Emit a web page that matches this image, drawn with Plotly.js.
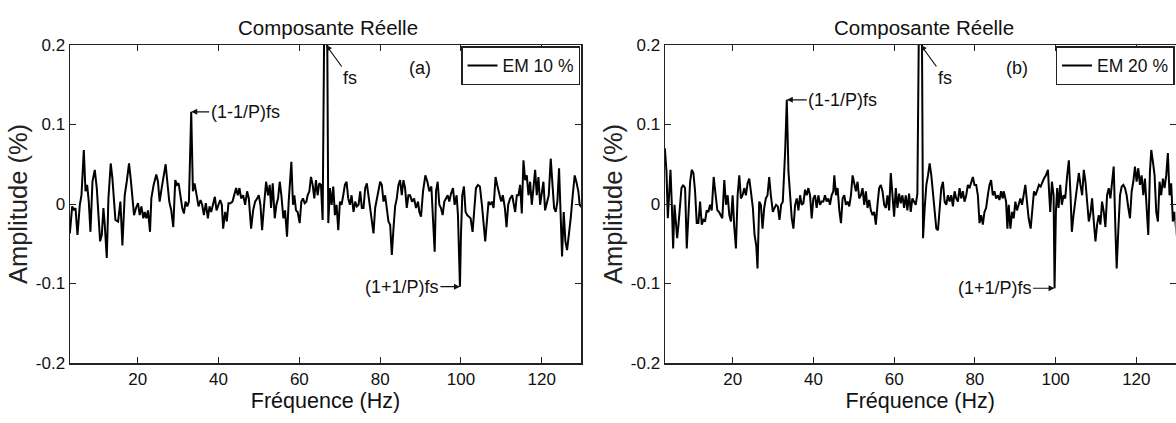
<!DOCTYPE html>
<html>
<head>
<meta charset="utf-8">
<script src="https://cdn.plot.ly/plotly-3.0.1.min.js"></script>
<style>html,body{margin:0;padding:0;background:#fff;}#chart{width:1176px;height:423px;}</style>
</head>
<body>
<div id="chart"></div>
<script>
// ---- Data ----
const freqA = [3.20,3.78,4.27,4.60,5.09,5.67,6.08,6.66,7.07,7.48,7.89,8.30,8.80,9.37,9.87,10.20,10.69,11.10,11.51,11.84,12.34,12.75,13.32,13.74,14.15,14.48,15.14,15.71,16.21,16.78,17.28,17.85,18.26,18.76,19.09,19.58,20.07,20.49,20.90,21.39,21.72,22.13,22.54,23.04,23.37,23.94,24.60,25.01,25.42,25.92,26.41,26.91,27.32,27.81,28.30,28.80,29.29,29.70,30.12,30.53,31.02,31.43,31.84,32.26,32.67,33.24,33.66,34.07,34.56,35.05,35.55,35.96,36.37,36.86,37.36,37.77,38.18,38.67,39.09,39.50,39.91,40.40,40.81,41.14,41.64,42.05,42.46,42.95,43.45,43.94,44.35,44.77,
45.18,45.59,46.09,46.58,47.07,47.49,48.06,48.56,49.05,49.54,49.96,50.37,50.78,51.27,51.77,52.26,52.67,53.00,53.41,53.91,54.32,54.73,55.14,55.55,56.05,56.46,56.95,57.36,57.77,58.02,58.43,58.76,59.17,59.58,60.08,60.49,60.90,61.31,61.73,62.05,62.47,62.88,63.29,63.70,64.11,64.52,64.93,65.35,65.76,66.35,66.75,67.16,67.57,67.98,68.39,68.80,69.21,69.63,70.04,70.45,70.86,71.27,71.68,72.09,72.51,72.92,73.41,73.82,74.23,74.65,75.06,75.47,75.88,76.29,76.70,77.12,77.53,77.94,78.35,78.76,79.17,79.58,80.00,80.41,80.82,81.23,81.64,82.05,82.47,82.88,83.29,83.70,84.11,84.52,84.93,85.35,85.76,86.17,86.58,86.99,
87.40,87.89,88.39,88.88,89.37,89.70,90.11,90.61,91.18,91.68,92.17,92.67,93.00,93.49,93.82,94.23,94.64,95.05,95.46,95.88,96.29,96.70,97.11,97.52,98.02,98.43,98.92,99.25,99.50,99.74,99.99,100.32,100.73,101.14,101.55,101.97,102.38,102.87,103.28,103.70,104.19,104.68,105.18,105.59,106.00,106.41,106.82,107.23,107.65,108.06,108.55,108.96,109.46,109.95,110.36,110.86,111.27,111.68,112.17,112.67,113.08,113.41,113.82,114.23,114.64,115.05,115.46,115.88,116.29,116.70,117.11,117.52,117.93,118.35,118.76,119.17,119.58,119.99,120.40,120.81,121.23,121.72,122.21,122.63,123.04,123.45,123.86,124.27,124.68,125.01,125.42,125.84,126.25,126.74,127.15,127.65,128.14,128.55,129.05,129.37,130.00];
const ampA = [-0.037,-0.003,-0.008,-0.005,-0.039,-0.001,0.011,0.068,0.016,0.024,0.003,-0.035,0.028,0.043,0.020,-0.010,-0.047,-0.039,-0.005,-0.026,-0.068,0.007,0.051,0.032,0.003,-0.020,-0.022,0.003,-0.052,0.011,0.028,0.051,0.032,0.003,-0.014,-0.005,0.001,-0.014,-0.003,-0.018,-0.010,-0.018,-0.008,-0.035,0.007,0.024,0.037,0.028,0.003,0.020,0.034,0.050,0.028,0.003,-0.008,-0.029,0.030,0.024,0.026,0.011,-0.005,-0.012,0.003,-0.003,0.003,0.116,0.016,0.026,0.011,-0.003,0.005,-0.001,-0.014,0.001,-0.018,-0.003,-0.010,-0.001,0.009,-0.008,-0.001,0.005,-0.001,-0.031,-0.010,-0.022,0.001,0.001,0.003,0.011,0.020,0.011,
0.020,0.007,0.011,-0.001,0.016,0.007,-0.031,-0.008,0.003,0.007,0.011,-0.001,-0.033,-0.001,0.028,0.011,0.024,-0.005,0.026,-0.018,-0.001,0.007,0.028,0.011,-0.018,-0.008,-0.041,0.003,0.034,0.053,-0.001,0.011,-0.008,-0.010,-0.024,0.003,0.007,0.001,0.003,0.011,0.016,0.034,0.024,0.007,0.030,0.011,0.026,0.024,-0.020,0.35,0.35,-0.024,0.020,-0.001,0.022,-0.014,-0.001,-0.033,0.003,-0.001,0.011,0.024,0.028,0.007,-0.001,0.011,-0.010,0.003,-0.003,-0.001,0.016,-0.005,-0.005,0.020,0.026,0.011,-0.001,-0.018,-0.037,-0.005,0.007,0.016,0.028,0.024,0.003,0.011,-0.003,-0.022,-0.026,-0.064,-0.031,-0.003,0.007,0.024,0.030,0.011,0.030,0.020,-0.005,0.011,
0.011,0.003,0.007,-0.005,0.003,-0.010,-0.016,0.016,0.036,0.028,0.016,0.022,-0.012,-0.060,0.016,0.028,-0.001,-0.005,-0.014,0.003,0.007,0.011,0.003,0.013,0.020,-0.001,0.011,-0.014,-0.060,-0.104,-0.039,0.011,0.022,-0.010,-0.014,-0.016,-0.018,-0.035,-0.001,0.020,0.024,0.022,-0.001,-0.026,-0.047,-0.022,0.003,-0.001,0.003,-0.005,0.034,0.024,0.011,0.003,0.011,-0.005,-0.029,-0.001,0.007,0.011,-0.001,-0.010,0.011,0.011,0.024,-0.012,0.055,0.030,0.036,0.011,0.028,-0.001,0.020,0.043,0.011,0.034,-0.001,0.011,0.028,-0.008,0.003,0.011,0.057,0.020,-0.005,-0.010,0.003,0.045,-0.014,-0.066,-0.010,-0.047,-0.058,-0.039,-0.018,0.011,0.036,0.028,0.016,-0.001,-0.005];

const freqB = [3.20,3.61,3.94,4.27,4.60,4.93,5.26,5.59,5.92,6.25,6.58,6.91,7.32,7.73,8.22,8.63,9.04,9.46,9.87,10.28,10.69,11.10,11.51,11.93,12.34,12.75,13.16,13.57,13.98,14.39,14.81,15.30,15.79,16.21,16.62,17.03,17.44,17.93,18.35,18.76,19.17,19.58,19.99,20.40,20.81,21.23,21.64,22.05,22.46,22.87,23.28,23.70,24.11,24.52,25.01,25.42,25.84,26.16,26.58,26.99,27.40,27.81,28.22,28.63,29.05,29.46,29.95,30.36,30.77,31.19,31.60,32.01,32.42,33.00,33.41,33.82,34.23,34.64,35.05,35.47,35.88,36.29,36.70,37.11,37.52,37.93,38.35,38.76,39.17,39.58,39.99,40.40,40.81,41.23,41.64,42.05,42.46,42.87,43.28,43.70,44.11,44.52,44.93,
45.18,45.59,46.00,46.42,46.83,47.24,47.65,48.06,48.47,48.88,49.30,49.71,50.12,50.53,50.94,51.35,51.77,52.18,52.59,53.00,53.41,53.82,54.23,54.65,55.06,55.47,55.88,56.29,56.70,57.12,57.53,57.94,58.35,58.76,59.17,59.58,60.00,60.41,60.82,61.23,61.64,62.05,62.47,62.88,63.29,63.70,64.11,64.52,64.93,65.35,65.76,66.35,66.75,67.16,67.57,67.98,68.39,68.80,69.21,69.63,70.04,70.45,70.86,71.27,71.68,72.09,72.51,72.92,73.33,73.74,74.15,74.56,74.98,75.39,75.80,76.21,76.62,77.03,77.44,77.86,78.27,78.68,79.09,79.50,79.91,80.33,80.74,81.15,81.56,81.97,82.38,82.79,83.21,83.62,84.03,84.44,84.85,85.26,85.68,86.09,86.50,86.91,
87.15,87.73,88.06,88.39,88.80,89.21,89.62,90.03,90.44,90.86,91.27,91.68,92.09,92.50,92.91,93.32,93.82,94.23,94.64,95.05,95.46,95.88,96.29,96.70,97.11,97.60,98.10,98.43,98.67,99.09,99.50,99.74,100.07,100.40,100.73,101.14,101.55,101.97,102.38,102.87,103.28,103.70,104.02,104.44,104.85,105.34,105.75,106.16,106.58,106.99,107.40,107.81,108.22,108.63,109.04,109.46,109.87,110.28,110.69,111.10,111.51,111.93,112.34,112.75,113.16,113.57,113.98,114.39,114.81,115.13,115.55,115.96,116.37,116.78,117.19,117.60,118.02,118.43,118.84,119.25,119.66,120.07,120.48,120.90,121.31,121.72,122.13,122.54,122.95,123.37,123.70,124.11,124.52,124.93,125.34,125.75,126.16,126.58,126.99,127.40,127.81,128.22,128.63,129.05,129.46,130.00];
const ampB = [0.070,0.041,-0.018,0.020,0.043,-0.001,-0.056,-0.001,-0.018,-0.043,-0.026,-0.001,0.020,0.024,0.020,-0.056,-0.005,0.028,0.043,0.039,0.016,-0.024,-0.024,0.003,-0.026,-0.020,-0.022,-0.008,-0.010,-0.001,-0.008,0.034,0.011,-0.008,-0.010,-0.014,-0.018,0.030,-0.001,0.011,-0.014,-0.022,0.011,-0.029,-0.056,0.011,0.036,0.007,0.011,0.020,0.011,0.026,0.032,0.016,-0.005,-0.039,-0.052,-0.081,0.003,-0.001,-0.031,-0.005,0.007,0.011,0.034,0.011,-0.010,-0.005,-0.001,-0.003,-0.020,-0.001,0.003,0.066,0.131,0.041,0.007,-0.018,-0.031,-0.001,0.007,-0.008,0.011,-0.001,0.001,0.018,0.011,0.020,0.011,-0.018,0.007,0.011,-0.005,0.011,-0.001,0.003,0.003,0.011,0.003,0.007,-0.001,0.011,0.016,
0.036,0.011,0.020,-0.008,-0.024,0.007,0.011,-0.001,0.003,-0.003,0.011,0.036,0.024,0.016,0.028,0.007,0.011,0.020,-0.001,0.016,-0.005,0.005,-0.008,-0.014,-0.010,-0.026,-0.001,0.020,0.024,0.016,-0.001,-0.005,0.011,-0.008,0.039,0.007,-0.016,0.020,-0.005,0.013,0.001,0.011,-0.005,0.011,-0.008,0.013,-0.010,0.007,0.003,-0.001,0.013,0.35,0.35,-0.043,-0.005,0.024,0.036,0.051,0.036,0.011,-0.014,-0.031,-0.033,-0.005,0.020,0.028,0.003,-0.001,0.011,0.003,0.011,-0.003,0.016,0.007,0.003,0.020,0.007,0.016,0.003,0.011,0.024,0.020,0.028,0.034,0.024,0.024,0.011,-0.024,-0.014,-0.026,-0.010,-0.005,0.011,0.024,0.030,0.011,0.016,0.007,0.011,0.005,0.016,0.007,
0.016,0.003,-0.031,-0.001,-0.031,-0.010,-0.018,0.003,-0.008,-0.001,0.007,-0.001,0.011,0.024,0.003,-0.018,-0.031,-0.005,0.016,0.011,0.018,0.024,0.022,0.028,0.032,0.036,0.043,0.011,-0.010,0.028,0.011,-0.106,-0.010,0.020,-0.005,0.024,-0.001,0.011,0.007,0.036,0.055,0.011,-0.035,-0.014,0.003,0.020,0.039,0.024,0.011,0.043,0.028,0.003,-0.022,-0.012,0.007,-0.022,-0.047,-0.026,-0.014,-0.026,0.003,-0.010,-0.029,0.011,0.020,0.007,0.024,0.047,-0.031,-0.081,-0.031,0.011,0.022,0.024,0.020,0.011,-0.005,-0.018,0.016,0.028,0.047,0.028,0.045,0.024,0.036,0.011,0.032,-0.010,-0.039,0.041,0.068,0.053,0.036,-0.010,-0.022,0.028,0.011,0.032,0.020,0.036,0.064,0.011,0.026,-0.022,-0.010,-0.040];

const seriesNames = ['EM 10 %', 'EM 20 %'];
const panelTitles = ['Composante Réelle', 'Composante Réelle'];
const panelLetters = ['(a)', '(b)'];
const xTitle = 'Fréquence (Hz)';
const yTitle = 'Amplitude (%)';
const yTickVals = [-0.2, -0.1, 0, 0.1, 0.2];
const yTickText = ['-0.2', '-0.1', '0', '0.1', '0.2'];
const xTickVals = [20, 40, 60, 80, 100, 120];
const xTickText = ['20', '40', '60', '80', '100', '120'];
const markA = {low: [33.24, 0.116], fs: [66.6, 0.2], high: [99.74, -0.104]};
const markB = {low: [33.41, 0.131], fs: [66.6, 0.2], high: [99.74, -0.106]};

// ---- Layout ----
const FONT = 'Liberation Sans, Arial, Helvetica, sans-serif';
const INK = '#111';
const W = 1176, H = 423;
const dx1 = [70/W, 581/W], dx2 = [665/W, 1175.5/W], dy = [60/H, 378/H];

function xAxis(domain, anchor) {
  return {domain: domain, anchor: anchor, range: [3.24, 129.7], tickvals: xTickVals, ticktext: xTickText,
    ticks: 'inside', ticklen: 6, tickwidth: 1, tickcolor: '#222', mirror: 'allticks', showline: true,
    linecolor: '#222', linewidth: 1.5, showgrid: false, zeroline: false,
    tickfont: {family: FONT, size: 17, color: INK},
    title: {text: xTitle, font: {family: FONT, size: 21.5, color: INK}, standoff: 5}};
}
function yAxis(domain, anchor) {
  return {domain: domain, anchor: anchor, range: [-0.2, 0.2], tickvals: yTickVals, ticktext: yTickText,
    ticks: 'inside', ticklen: 6, tickwidth: 1, tickcolor: '#222', mirror: 'allticks', showline: true,
    linecolor: '#222', linewidth: 1.5, showgrid: false, zeroline: false,
    tickfont: {family: FONT, size: 17, color: INK},
    title: {text: yTitle, font: {family: FONT, size: 25.5, color: '#222'}, standoff: 1}};
}

function arrowAnn(xref, yref, pt, text, ax, ay) {
  return {xref: xref, yref: yref, x: pt[0], y: pt[1], text: text, showarrow: true,
    ax: ax, ay: ay, arrowhead: 2, arrowsize: 1, arrowwidth: 1.2, arrowcolor: INK,
    font: {family: FONT, size: 18, color: INK}, borderpad: 1};
}
function label(x, y, text, size) {
  return {xref: 'paper', yref: 'paper', x: x/W, y: 1 - y/H, xanchor: 'center', yanchor: 'middle',
    text: text, showarrow: false, font: {family: FONT, size: size, color: INK}};
}

const traces = [
  {x: freqA, y: ampA, type: 'scatter', mode: 'lines', name: seriesNames[0], xaxis: 'x', yaxis: 'y',
   line: {color: '#000', width: 2}, legend: 'legend', cliponaxis: true},
  {x: freqB, y: ampB, type: 'scatter', mode: 'lines', name: seriesNames[1], xaxis: 'x2', yaxis: 'y2',
   line: {color: '#000', width: 2}, legend: 'legend2', cliponaxis: true}
];

const legendBase = {y: dy[1] - 1/H, yanchor: 'top', xanchor: 'right', bgcolor: '#fff',
  bordercolor: '#222', borderwidth: 1.5, font: {family: FONT, size: 17.5, color: INK},
  itemwidth: 30, tracegroupgap: 0};

const layout = {
  width: W, height: H, margin: {l: 0, r: 0, t: 0, b: 0},
  paper_bgcolor: '#fff', plot_bgcolor: '#fff', showlegend: true,
  xaxis: xAxis(dx1, 'y'), yaxis: yAxis(dy, 'x'),
  xaxis2: xAxis(dx2, 'y2'), yaxis2: yAxis(dy, 'x2'),
  legend: Object.assign({}, legendBase, {x: dx1[1] - 1/W}),
  legend2: Object.assign({}, legendBase, {x: dx2[1] - 1/W}),
  annotations: [
    label(328, 28, panelTitles[0], 20.5),
    label(924, 28, panelTitles[1], 20.5),
    label(420, 68, panelLetters[0], 18),
    label(1017, 68, panelLetters[1], 18),
    arrowAnn('x', 'y', markA.low, '(1-1/P)fs', 54, 0),
    arrowAnn('x', 'y', markA.fs, 'fs', 24, 33),
    arrowAnn('x', 'y', markA.high, '(1+1/P)fs', -58, 0),
    arrowAnn('x2', 'y2', markB.low, '(1-1/P)fs', 56, 0),
    arrowAnn('x2', 'y2', markB.fs, 'fs', 24, 33),
    arrowAnn('x2', 'y2', markB.high, '(1+1/P)fs', -60, 0)
  ]
};

Plotly.newPlot('chart', traces, layout, {staticPlot: true, displayModeBar: false});
</script>
</body>
</html>
